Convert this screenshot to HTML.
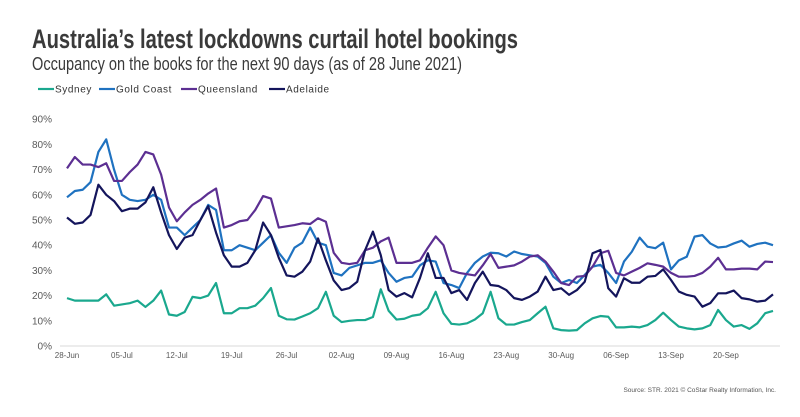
<!DOCTYPE html>
<html><head><meta charset="utf-8"><style>
html,body{margin:0;padding:0;background:#fff;}
svg{display:block;font-family:"Liberation Sans",sans-serif;}
</style></head><body>
<svg id="chart" width="800" height="417" viewBox="0 0 800 417" xmlns="http://www.w3.org/2000/svg">
<text x="32" y="48" font-size="27" font-weight="bold" fill="#3a3a3a" textLength="486" lengthAdjust="spacingAndGlyphs" font-family="Liberation Sans Narrow, Liberation Sans, sans-serif">Australia’s latest lockdowns curtail hotel bookings</text>
<text x="32" y="70" font-size="18" fill="#3a3a3a" textLength="430" lengthAdjust="spacingAndGlyphs" font-family="Liberation Sans Narrow, Liberation Sans, sans-serif">Occupancy on the books for the next 90 days (as of 28 June 2021)</text>
<g id="legend" font-size="10" fill="#333" letter-spacing="0.6"></g>
<g id="grid"></g>
<g id="lines"></g>
<text x="776" y="392" font-size="6.5" fill="#555" text-anchor="end">Source: STR. 2021 © CoStar Realty Information, Inc.</text>
</svg>
<script>
const seriesNames = ["Sydney","Gold Coast","Queensland","Adelaide"];
const seriesColors = ["#1aa88e","#1f72c0","#5c2f92","#14155c"];
const yTicks = [0,10,20,30,40,50,60,70,80,90];
const xTickLabels = ["28-Jun","05-Jul","12-Jul","19-Jul","26-Jul","02-Aug","09-Aug","16-Aug","23-Aug","30-Aug","06-Sep","13-Sep","20-Sep"];
const sydney = [19,18,18,18,18,20.5,16,16.5,17,18,15.5,18,22,12.5,12,13.5,19.5,19,20,25,13,13,15,15,16,19,23,12,10.6,
10.5,11.7,13,15,21.5,12,9.5,10,10.3,10.3,11.5,22.5,14,10.5,10.8,12,12.5,15,21.5,13,8.8,8.5,9,10.5,13,21.5,11,8.5,8.5,9.5,
10.3,13,15.6,7,6.3,6.1,6.3,9,11,11.9,11.6,7.4,7.4,7.7,7.4,8.3,10.3,13.2,10.3,7.7,7,6.6,7,8.3,14.3,10.3,7.7,8.3,6.8,9,13,13.9];
const goldCoast = [59,61.5,62,65,77,82,70,60,58,57.5,58,60,58,47,47,44,47,50,56,54,38,38,40,39,38,41,44,37,33,
39,41,47,41,40,29,28,31,32,33,33,34,29,25.5,27,27.5,32,34,33.5,25,24.2,23,29,33,35.5,37,36.8,35.5,37.5,36.5,
36,35.5,33,27.5,25,26.2,25,28.2,31.5,32.2,29,25,33.5,37.4,43,39.4,38.8,41,30.4,34,35.4,43.4,44,40.7,39.1,39.4,40.7,41.8,39.4,40.5,41,40];
const queensland = [70.5,75,72,72,71,72.5,65.5,65.5,69,72,77,76,68,55,49.5,53,56,58,60.5,62.5,47,48,49.5,50,54,59.5,58.5,47,47.5,
48,48.7,48.4,50.7,49.3,37,33,32.5,33,38,39,41.5,43,33,33,33,34,39,43.5,40,30,29,28.5,28,32,36.5,31,31.5,32,33.5,
35.5,36,33.5,29.5,25,24.2,27.5,27.8,31.5,36.8,37.8,29,28,29.5,31,32.8,32.2,31.5,29,27.5,27.5,27.8,29,31.5,35,30.4,30.4,30.7,30.7,30.4,33.5,33.3];
const adelaide = [51,48.5,49,52,64,60,57.5,53.5,54.5,54.5,57,63,53,44,38.5,43,44,50,55.5,45,36,31.5,31.5,33,38,49,44,35,28,
27.5,29.5,33.5,42.7,34,26,22.2,23,25.5,38,45.4,36,22.2,19.6,21,19.3,27,36.8,27,27,21,22.2,18.3,25,29.5,24.2,23.8,22.2,19,18.3,
19.6,21.6,27.5,22.2,22.9,20.3,22.2,25.5,36.8,38.1,22.9,19.6,26.9,25.1,25.1,27.5,27.8,30.4,26.2,21.6,20.3,19.6,15.6,17,20.9,20.9,22,19,18.5,17.6,18,20.5];
const allSeries = [sydney, goldCoast, queensland, adelaide];
const seriesKeys = ["sydney","gold-coast","queensland","adelaide"];

const NS = "http://www.w3.org/2000/svg";
const X0 = 67, X1 = 773, DAYS = 90, Y0 = 346, YPER = 2.52;
function xScale(d){ return X0 + d*(X1-X0)/DAYS; }
function yScale(v){ return Y0 - v*YPER; }
function mk(tag, attrs, parent){ const e=document.createElementNS(NS,tag); for(const k in attrs) e.setAttribute(k,attrs[k]); parent.appendChild(e); return e; }

const grid = document.getElementById('grid');
const axis = mk('line',{x1:60,x2:780,y1:Y0,y2:Y0,stroke:'#d9d9d9','stroke-width':1},grid);


yTicks.forEach(v=>{
  const t = mk('text',{x:52,y:yScale(v)+3.5,'font-size':10,fill:'#595959','text-anchor':'end'},grid);
  t.textContent = v+'%';
  
  
});
xTickLabels.forEach((lab,i)=>{
  const t = mk('text',{x:xScale(i*7),y:358,'font-size':8,fill:'#595959','text-anchor':'middle'},grid);
  t.textContent = lab;
  
  
});

const lines = document.getElementById('lines');
allSeries.forEach((s,i)=>{
  const d = s.map((v,k)=>(k?'L':'M')+xScale(k).toFixed(2)+','+yScale(v).toFixed(2)).join(' ');
  const p = mk('path',{d:d,fill:'none',stroke:seriesColors[i],'stroke-width':2.2,'stroke-linejoin':'round'},lines);
  
  
});

const legend = document.getElementById('legend');
const legX = [38,99,181,269];
seriesNames.forEach((n,i)=>{
  const g = mk('g',{},legend);
  
  
  mk('line',{x1:legX[i],x2:legX[i]+16,y1:89,y2:89,stroke:seriesColors[i],'stroke-width':2.2},g);
  const t = mk('text',{x:legX[i]+17,y:92.5},g);
  t.textContent = n;
});
</script>
</body></html>
